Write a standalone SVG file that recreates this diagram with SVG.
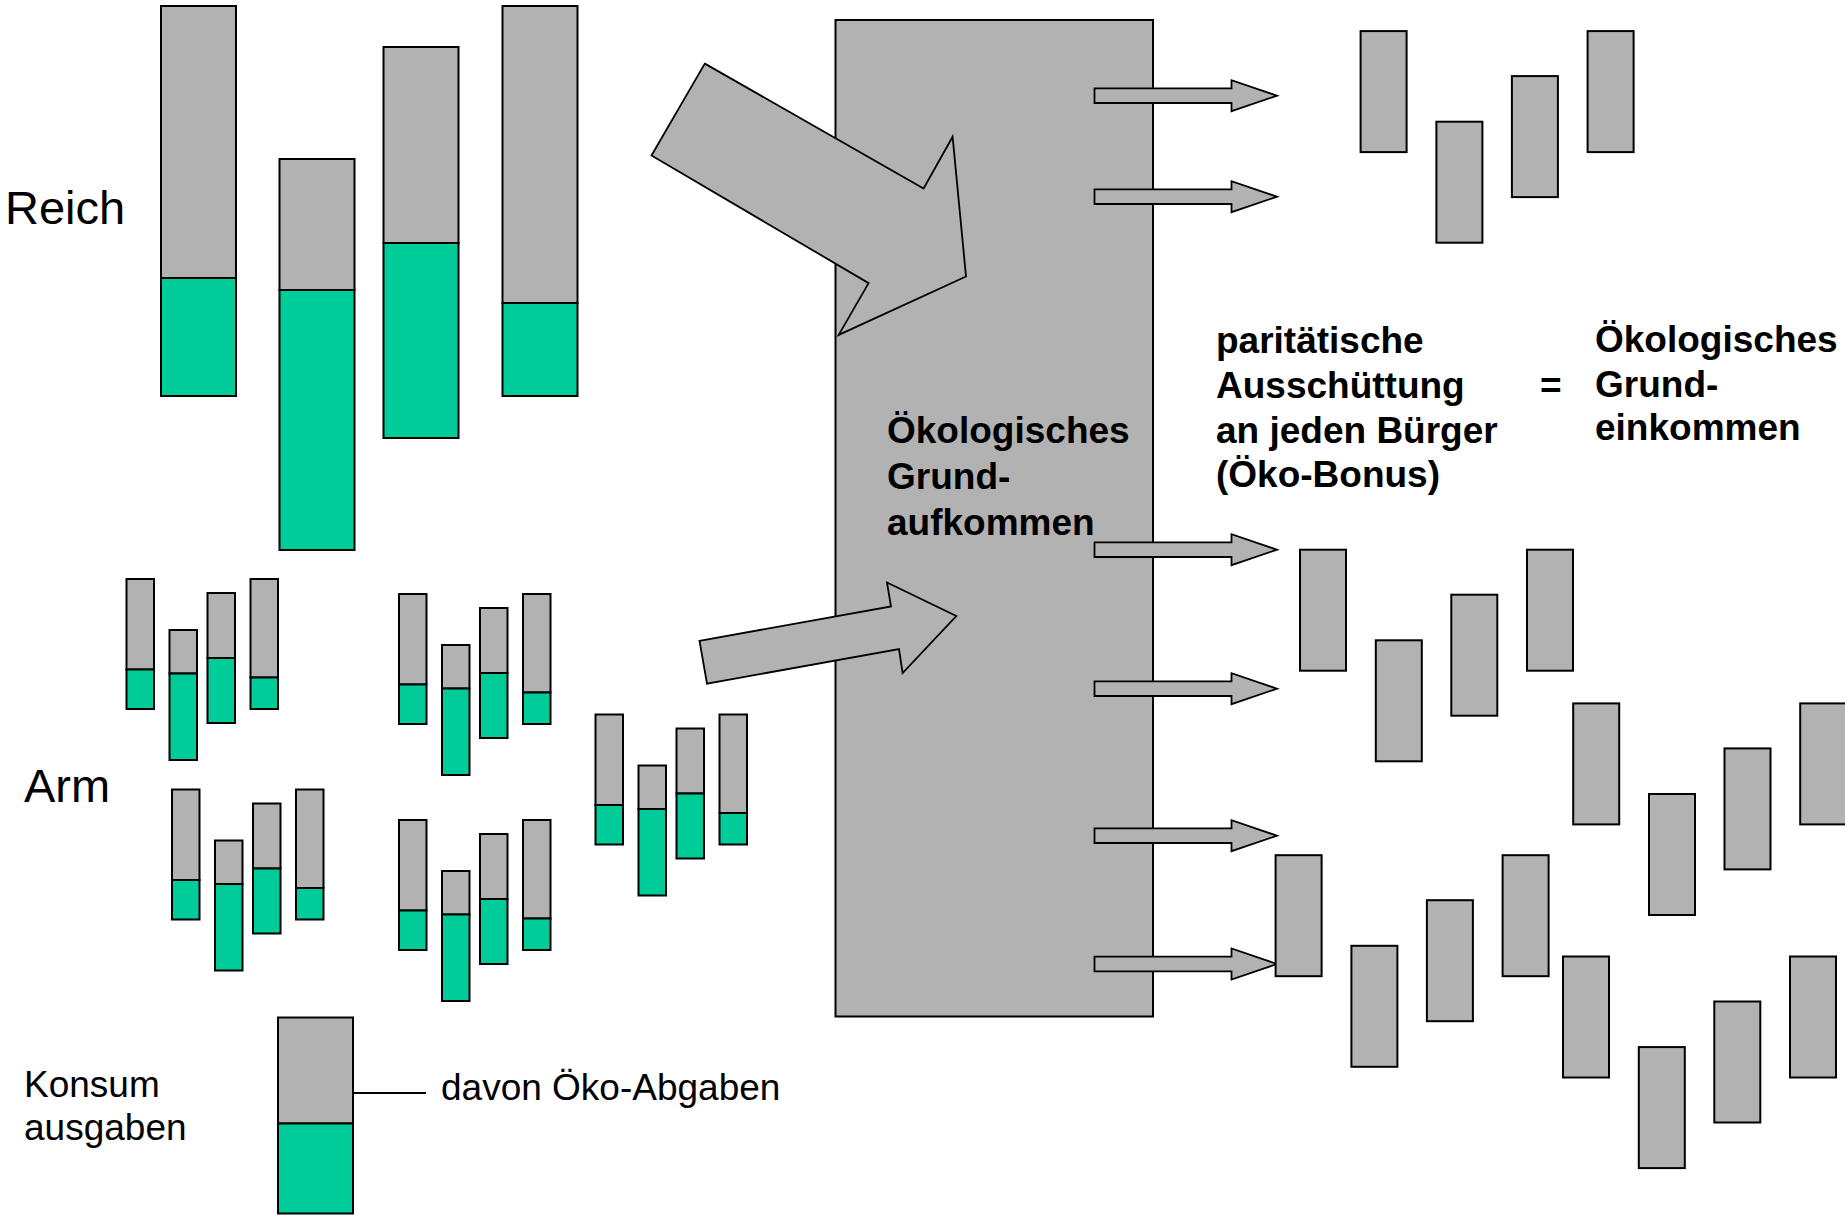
<svg xmlns="http://www.w3.org/2000/svg" xmlns:xlink="http://www.w3.org/1999/xlink" width="1845" height="1218" viewBox="0 0 1845 1218">
  <style>
    .gray { fill: #B2B2B2; stroke: #000; stroke-width: 2; }
    .green { fill: #00CC99; stroke: #000; stroke-width: 2; }
    .flow { fill: #B2B2B2; stroke: #000; stroke-width: 1.8; stroke-linejoin: miter; }
    .lbl { font-family: "Liberation Sans", Arial, sans-serif; fill: #000; }
    .big { font-size: 47px; }
    .mid { font-size: 37px; }
    .bold { font-size: 37px; font-weight: bold; }
  </style>
  <defs>
    <!-- four households: consumption (gray) with eco-levy share (green) -->
    <g id="poor4">
      <rect class="gray" x="0" y="0" width="27.5" height="90.5"/>
      <rect class="green" x="0" y="90.5" width="27.5" height="39.5"/>
      <rect class="gray" x="43" y="51" width="27.5" height="43.5"/>
      <rect class="green" x="43" y="94.5" width="27.5" height="86.5"/>
      <rect class="gray" x="81" y="14" width="27.5" height="65"/>
      <rect class="green" x="81" y="79" width="27.5" height="65"/>
      <rect class="gray" x="124" y="0" width="27.5" height="98.5"/>
      <rect class="green" x="124" y="98.5" width="27.5" height="31.5"/>
    </g>
    <!-- four equal payouts -->
    <g id="bonus4">
      <rect class="gray" x="0" y="0" width="46" height="121"/>
      <rect class="gray" x="75.8" y="90.6" width="46" height="121"/>
      <rect class="gray" x="151.3" y="45" width="46" height="121"/>
      <rect class="gray" x="227" y="0" width="46" height="121"/>
    </g>
    <!-- small outgoing arrow, centred on y=0 -->
    <polygon id="outArrow" class="flow" points="1094.5,-7.3 1231.5,-7.3 1231.5,-15.5 1277,0 1231.5,15.5 1231.5,7.3 1094.5,7.3"/>
  </defs>

  <!-- rich households -->
  <g id="rich">
    <text class="lbl big" x="5" y="224">Reich</text>
    <g id="rich1">
      <rect class="gray" x="161" y="6" width="75" height="272"/>
      <rect class="green" x="161" y="278" width="75" height="118"/>
    </g>
    <g id="rich2">
      <rect class="gray" x="279.5" y="159" width="75" height="131"/>
      <rect class="green" x="279.5" y="290" width="75" height="260"/>
    </g>
    <g id="rich3">
      <rect class="gray" x="383.5" y="47" width="75" height="196"/>
      <rect class="green" x="383.5" y="243" width="75" height="195"/>
    </g>
    <g id="rich4">
      <rect class="gray" x="502.5" y="6" width="75" height="297"/>
      <rect class="green" x="502.5" y="303" width="75" height="93"/>
    </g>
  </g>

  <!-- poor households -->
  <g id="poor">
    <text class="lbl big" x="24" y="802">Arm</text>
    <use id="poorA" xlink:href="#poor4" transform="translate(126.5,579)"/>
    <use id="poorB" xlink:href="#poor4" transform="translate(399,594)"/>
    <use id="poorC" xlink:href="#poor4" transform="translate(172,789.5)"/>
    <use id="poorD" xlink:href="#poor4" transform="translate(399,820)"/>
    <use id="poorE" xlink:href="#poor4" transform="translate(595.5,714.5)"/>
  </g>

  <!-- legend -->
  <g id="legend">
    <text class="lbl mid" x="24" y="1097">Konsum</text>
    <text class="lbl mid" x="24" y="1140">ausgaben</text>
    <rect class="gray" x="278" y="1017.5" width="75" height="106"/>
    <rect class="green" x="278" y="1123.5" width="75" height="90"/>
    <line x1="353" y1="1093" x2="426" y2="1093" stroke="#000" stroke-width="1.8"/>
    <text class="lbl mid" x="441" y="1100">davon Öko-Abgaben</text>
  </g>

  <!-- central pool -->
  <g id="pool">
    <rect class="gray" x="835.5" y="20" width="317.5" height="996.5"/>
  </g>

  <!-- flows into and out of the pool -->
  <g id="connectors">
    <polygon class="flow" points="704.8,63.6 923.6,188.5 952.6,136.7 966,276.5 838.7,334.9 868.6,283.1 651.5,155.5"/>
    <polygon class="flow" points="699.5,640.8 891,606.5 887,582.5 956.3,616 902.6,673 899,649.1 707,683.7"/>
    <use xlink:href="#outArrow" transform="translate(0,95.7)"/>
    <use xlink:href="#outArrow" transform="translate(0,196.7)"/>
    <use xlink:href="#outArrow" transform="translate(0,549.7)"/>
    <use xlink:href="#outArrow" transform="translate(0,688.7)"/>
    <use xlink:href="#outArrow" transform="translate(0,835.7)"/>
    <use xlink:href="#outArrow" transform="translate(0,964)"/>
  </g>

  <g id="poolLabel">
    <text class="lbl bold" x="887" y="443">Ökologisches</text>
    <text class="lbl bold" x="887" y="489">Grund-</text>
    <text class="lbl bold" x="887" y="535">aufkommen</text>
  </g>

  <g id="payoutLabel">
    <text class="lbl bold" x="1216" y="353">paritätische</text>
    <text class="lbl bold" x="1216" y="398">Ausschüttung</text>
    <text class="lbl bold" x="1216" y="443">an jeden Bürger</text>
    <text class="lbl bold" x="1216" y="487">(Öko-Bonus)</text>
    <text class="lbl bold" x="1540" y="398">=</text>
    <text class="lbl bold" x="1595" y="352">Ökologisches</text>
    <text class="lbl bold" x="1595" y="397">Grund-</text>
    <text class="lbl bold" x="1595" y="440">einkommen</text>
  </g>

  <!-- equal per-capita payouts -->
  <g id="payouts">
    <use id="payTop" xlink:href="#bonus4" transform="translate(1360.6,31.1)"/>
    <use id="payMidL" xlink:href="#bonus4" transform="translate(1300,549.7)"/>
    <use id="payMidR" xlink:href="#bonus4" transform="translate(1573.2,703.4)"/>
    <use id="payLowL" xlink:href="#bonus4" transform="translate(1275.6,855.2)"/>
    <use id="payLowR" xlink:href="#bonus4" transform="translate(1563,956.5)"/>
  </g>
</svg>
